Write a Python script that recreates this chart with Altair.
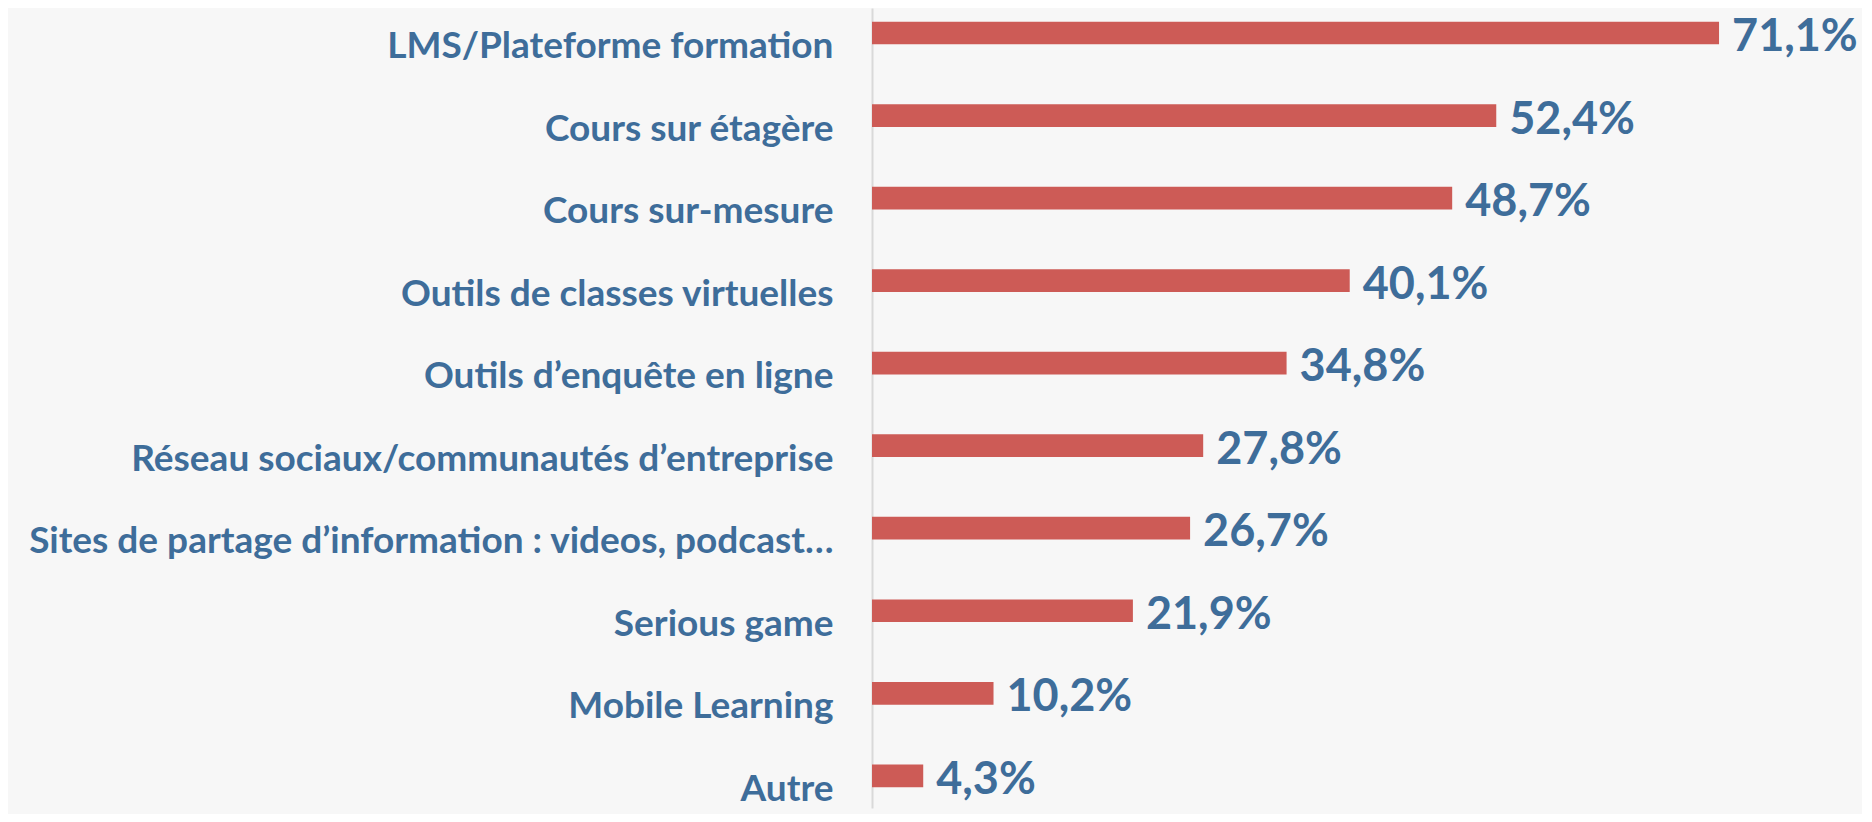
import altair as alt
import pandas as pd

categories = [
    "LMS/Plateforme formation",
    "Cours sur étagère",
    "Cours sur-mesure",
    "Outils de classes virtuelles",
    "Outils d’enquête en ligne",
    "Réseau sociaux/communautés d’entreprise",
    "Sites de partage d’information : videos, podcast…",
    "Serious game",
    "Mobile Learning",
    "Autre",
]
values = [71.1, 52.4, 48.7, 40.1, 34.8, 27.8, 26.7, 21.9, 10.2, 4.3]

df = pd.DataFrame({"cat": categories, "val": values})
df["label"] = [f"{v:.1f}".replace(".", ",") + "%" for v in values]

BLUE = "#3E6D9A"
RED = "#CD5B56"

yscale = alt.Scale(paddingInner=0.725, paddingOuter=0.209, align=0.396)
xscale = alt.Scale(domain=[0, 83.1])

y = alt.Y(
    "cat:N",
    sort=categories,
    title=None,
    scale=yscale,
    axis=alt.Axis(
        domain=True,
        domainColor="#D9D9D9",
        domainWidth=2,
        ticks=False,
        tickSize=0,
        grid=False,
        labelFont="Lato",
        labelFontSize=37,
        labelFontWeight="bold",
        labelColor=BLUE,
        labelPadding=39,
        labelOffset=14,
        labelLimit=1200,
        labelBaseline="middle",
    ),
)
x = alt.X("val:Q", scale=xscale, axis=None)

bars = alt.Chart(df).mark_bar(color=RED).encode(x=x, y=y)
text = alt.Chart(df).mark_text(
    align="left",
    baseline="middle",
    dx=13,
    dy=4,
    font="Lato",
    fontSize=45,
    fontWeight="bold",
    color=BLUE,
).encode(x=x, y=alt.Y("cat:N", sort=categories), text="label:N")

chart = (
    (bars + text)
    .properties(
        width=990,
        height=800,
        autosize=alt.AutoSizeParams(type="none"),
        padding={"left": 864, "top": 0, "right": 0, "bottom": 6},
        background="#f7f7f7",
    )
    .configure_view(stroke=None)
)

chart.save("out.html", embed_options={"renderer": "svg", "actions": False})
